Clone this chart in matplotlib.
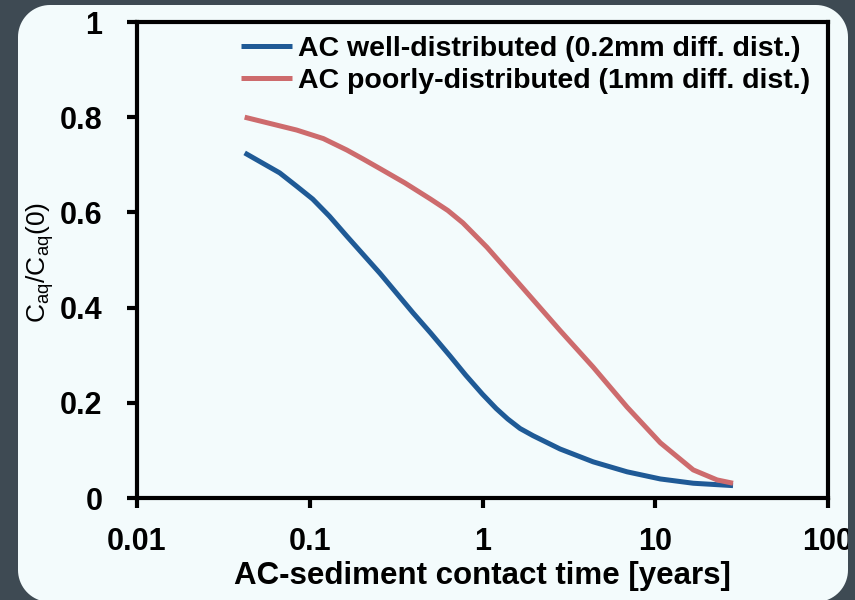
import numpy as np
import matplotlib
matplotlib.use('Agg')
import matplotlib.pyplot as plt
from matplotlib.path import Path
from matplotlib.patches import PathPatch
from matplotlib.transforms import IdentityTransform

# --- Data ---
t_well = [0.042, 0.067, 0.084, 0.104, 0.13, 0.164, 0.255, 0.396, 0.5, 0.65, 0.8, 1.0, 1.2, 1.4, 1.65, 1.96, 2.81, 4.37, 6.87, 10.7, 16.6, 28.2]
c_well = [0.725, 0.683, 0.655, 0.628, 0.592, 0.550, 0.472, 0.389, 0.347, 0.298, 0.258, 0.218, 0.188, 0.166, 0.146, 0.131, 0.103, 0.076, 0.055, 0.040, 0.031, 0.026]

t_poor = [0.042, 0.084, 0.12, 0.164, 0.204, 0.255, 0.355, 0.5, 0.63, 0.77, 1.06, 1.585, 2.81, 4.37, 6.87, 10.7, 16.6, 22.8, 28.2]
c_poor = [0.800, 0.773, 0.755, 0.731, 0.712, 0.692, 0.662, 0.628, 0.604, 0.578, 0.527, 0.455, 0.352, 0.275, 0.191, 0.116, 0.059, 0.038, 0.031]

labels = ['AC well-distributed (0.2mm diff. dist.)',
          'AC poorly-distributed (1mm diff. dist.)']
colors = ['#1f5a96', '#cd6b6d']

x_ticks = [0.01, 0.1, 1, 10, 100]
x_ticklabels = ['0.01', '0.1', '1', '10', '100']
y_ticks = [0, 0.2, 0.4, 0.6, 0.8, 1]
y_ticklabels = ['0', '0.2', '0.4', '0.6', '0.8', '1']

plt.rcParams['font.family'] = ['Liberation Sans', 'DejaVu Sans']
plt.rcParams['mathtext.fontset'] = 'custom'
plt.rcParams['mathtext.rm'] = 'Liberation Sans'

bg = '#f3fbfc'
frame_col = '#3e4a53'

fig = plt.figure(figsize=(8.55, 6), dpi=100)
fig.patch.set_facecolor(bg)
ax = fig.add_axes([137 / 855, 102 / 600, 691 / 855, 476 / 600])
ax.set_facecolor(bg)

ax.plot(t_well, c_well, color=colors[0], lw=3.6, solid_capstyle='butt', label=labels[0])
ax.plot(t_poor, c_poor, color=colors[1], lw=3.6, solid_capstyle='butt', label=labels[1])

ax.set_xscale('log')
ax.set_xlim(0.01, 100)
ax.set_ylim(0, 1)
ax.set_xticks(x_ticks)
ax.set_xticklabels(x_ticklabels)
ax.set_yticks(y_ticks)
ax.set_yticklabels(y_ticklabels)
ax.minorticks_off()

for s in ax.spines.values():
    s.set_linewidth(3)
    s.set_color('black')
ax.tick_params(direction='out', length=7, width=3, labelsize=22)
ax.tick_params(axis='y', pad=18)
ax.tick_params(axis='x', pad=14)
for lab in ax.get_xticklabels() + ax.get_yticklabels():
    lab.set_fontweight('bold')

ax.set_xlabel('AC-sediment contact time [years]', fontsize=22.5, fontweight='bold', labelpad=3)
fig.text(40 / 855, 1 - 262 / 600, r'C$_{\mathregular{aq}}$/C$_{\mathregular{aq}}$(0)',
         rotation=90, fontsize=19, ha='center', va='center')

leg = ax.legend(loc='upper right', bbox_to_anchor=(0.99, 0.995), frameon=False,
                fontsize=20.5, handlelength=1.8, handletextpad=0.2,
                labelspacing=0.22, borderaxespad=0)
for txt in leg.get_texts():
    txt.set_fontweight('bold')

# dark frame with rounded window on top
W, H = 855, 600
x0, x1, y0, y1, r = 18, 848, -2, 595, 32
pts = []
for cx, cy, a0 in [(x1 - r, y0 + r, -90), (x1 - r, y1 - r, 0), (x0 + r, y1 - r, 90), (x0 + r, y0 + r, 180)]:
    ang = np.radians(np.linspace(a0, a0 + 90, 20))
    pts += list(zip(cx + r * np.cos(ang), cy + r * np.sin(ang)))
inner = np.array(pts[::-1])
outer = np.array([(0, 0), (W, 0), (W, H), (0, H)])
verts = np.vstack([outer, outer[:1], inner, inner[:1]])
codes = ([Path.MOVETO] + [Path.LINETO] * 3 + [Path.CLOSEPOLY]
         + [Path.MOVETO] + [Path.LINETO] * (len(inner) - 1) + [Path.CLOSEPOLY])
frame = PathPatch(Path(verts, codes), facecolor=frame_col, edgecolor='none',
                  transform=IdentityTransform(), zorder=100)
fig.add_artist(frame)

fig.savefig('out.png', dpi=100, facecolor=fig.get_facecolor())
